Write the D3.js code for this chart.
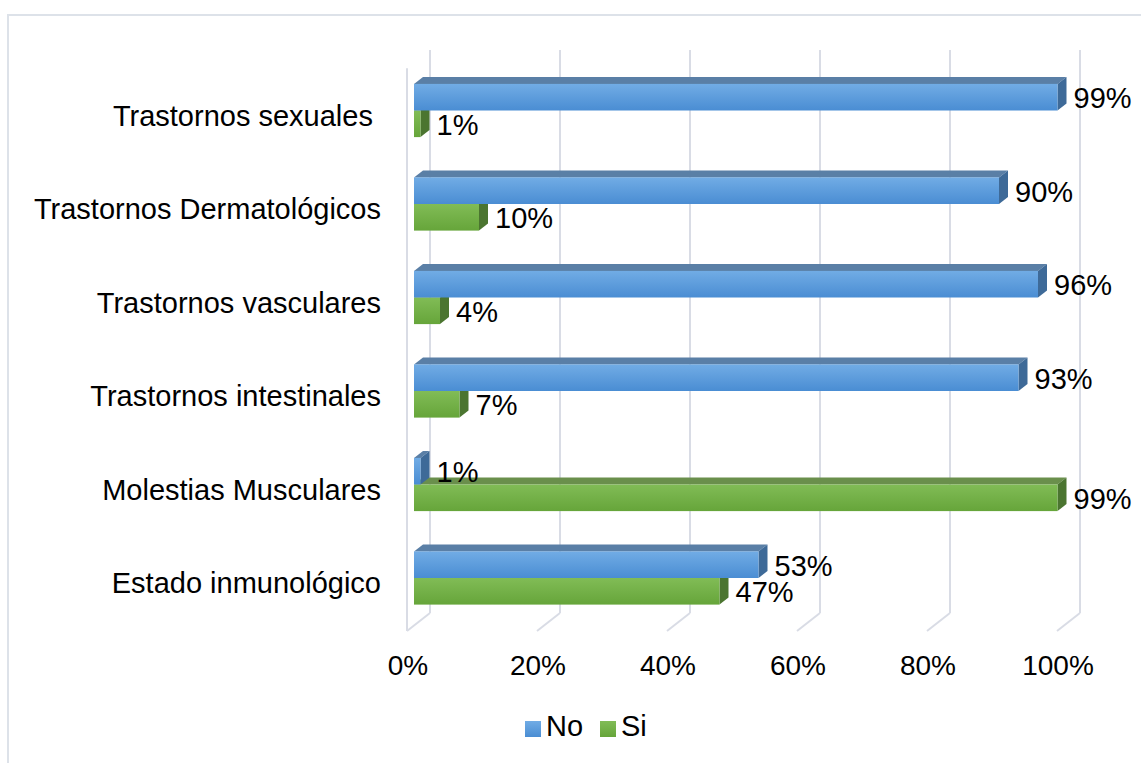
<!DOCTYPE html>
<html><head><meta charset="utf-8">
<script src="https://cdn.jsdelivr.net/npm/d3@7"></script>
<style>
html,body{margin:0;padding:0;background:#fff;}
text{font-family:"Liberation Sans",Arial,sans-serif;fill:#000;}
</style></head>
<body>
<svg id="chart" width="1141" height="763"></svg>
<script>
const categories = ["Trastornos sexuales ", "Trastornos Dermatológicos", "Trastornos vasculares", "Trastornos intestinales", "Molestias Musculares", "Estado inmunológico"];
const seriesNames = ["No", "Si"];
const valuesNo = [99, 90, 96, 93, 1, 53];
const valuesSi = [1, 10, 4, 7, 99, 47];
const tickValues = [0, 20, 40, 60, 80, 100];
const tickLabels = ["0%", "20%", "40%", "60%", "80%", "100%"];

const svg = d3.select("#chart");
const W = 1141, H = 763;

// chart frame
svg.append("rect").attr("x", 8).attr("y", 15).attr("width", 1160).attr("height", 800)
  .attr("fill", "#fff").attr("stroke", "#dde2e9").attr("stroke-width", 2);

const colors = {
  No: {front0: "#71ace5", front1: "#4a8dd3", top: "#5a7fa6", side: "#3e6a98"},
  Si: {front0: "#81bc56", front1: "#66a53a", top: "#6a8f4c", side: "#4b7530"}
};
const defs = svg.append("defs");
seriesNames.forEach(s => {
  const g = defs.append("linearGradient").attr("id", "grad" + s).attr("x1", 0).attr("y1", 0).attr("x2", 0).attr("y2", 1);
  g.append("stop").attr("offset", "0%").attr("stop-color", colors[s].front0);
  g.append("stop").attr("offset", "100%").attr("stop-color", colors[s].front1);
});

// scales
const xBack = d3.scaleLinear().domain([0, 100]).range([430, 1080]);
const xFront = d3.scaleLinear().domain([0, 100]).range([407, 1057]);
const xBar = d3.scaleLinear().domain([0, 100]).range([414, 1064]);
const wallTop = 50, wallBottom = 613, floorFront = 631;
const y = d3.scaleBand().domain(categories).range([63.75, 624.75]).paddingInner(0.431).paddingOuter(0.2155);
const ySub = d3.scaleBand().domain(seriesNames).range([0, y.bandwidth()]);
const depth = {dx: 9, dy: -7};

const gridColor = "#d9dce5";
const grid = svg.append("g");
// back wall gridlines
grid.selectAll("line.back").data(tickValues).join("line")
  .attr("x1", d => xBack(d)).attr("x2", d => xBack(d))
  .attr("y1", wallTop).attr("y2", wallBottom)
  .attr("stroke", gridColor).attr("stroke-width", 2);
// floor diagonals
grid.selectAll("line.floor").data(tickValues).join("line")
  .attr("x1", d => xBack(d)).attr("x2", d => xFront(d))
  .attr("y1", wallBottom).attr("y2", floorFront)
  .attr("stroke", gridColor).attr("stroke-width", 2);
// left wall front edge
grid.append("line").attr("x1", xFront(0)).attr("x2", xFront(0))
  .attr("y1", wallTop - depth.dy * 2.6).attr("y2", floorFront)
  .attr("stroke", gridColor).attr("stroke-width", 2);

// tick labels
svg.append("g").selectAll("text").data(tickValues).join("text")
  .attr("x", d => xFront(d) + 1).attr("y", 675)
  .attr("text-anchor", "middle").attr("font-size", 28)
  .text((d, i) => tickLabels[i]);

// category labels
svg.append("g").selectAll("text").data(categories).join("text")
  .attr("x", 381).attr("y", d => y(d) + y.bandwidth() / 2 + 15)
  .attr("text-anchor", "end").attr("font-size", 29)
  .style("white-space", "pre")
  .text(d => d);

// bars
const rows = [];
categories.forEach((c, i) => {
  rows.push({cat: c, s: "Si", v: valuesSi[i]});
  rows.push({cat: c, s: "No", v: valuesNo[i]});
});
const barG = svg.append("g");
rows.forEach(r => {
  const x0 = xBar(0), x1 = xBar(r.v);
  const top = y(r.cat) + ySub(r.s), bot = top + ySub.bandwidth();
  const g = barG.append("g");
  // top face
  g.append("path").attr("d", `M${x0},${top}L${x0 + depth.dx},${top + depth.dy}L${x1 + depth.dx},${top + depth.dy}L${x1},${top}Z`)
    .attr("fill", colors[r.s].top);
  // side face
  g.append("path").attr("d", `M${x1},${top}L${x1 + depth.dx},${top + depth.dy}L${x1 + depth.dx},${bot + depth.dy}L${x1},${bot}Z`)
    .attr("fill", colors[r.s].side);
  // front face
  g.append("rect").attr("x", x0).attr("y", top).attr("width", x1 - x0).attr("height", bot - top)
    .attr("fill", `url(#grad${r.s})`);
});

// value labels
svg.append("g").selectAll("text").data(rows).join("text")
  .attr("x", d => xBar(d.v) + 16)
  .attr("y", d => y(d.cat) + ySub(d.s) + ySub.bandwidth() / 2 + 11)
  .attr("font-size", 29)
  .text(d => d.v + "%");

// legend
const legend = svg.append("g");
const legendX = {No: 525, Si: 600};
seriesNames.forEach(s => {
  legend.append("rect").attr("x", legendX[s]).attr("y", 721).attr("width", 16).attr("height", 16)
    .attr("fill", `url(#grad${s})`);
  legend.append("text").attr("x", legendX[s] + 21).attr("y", 736).attr("font-size", 29).text(s);
});
</script>
</body></html>
